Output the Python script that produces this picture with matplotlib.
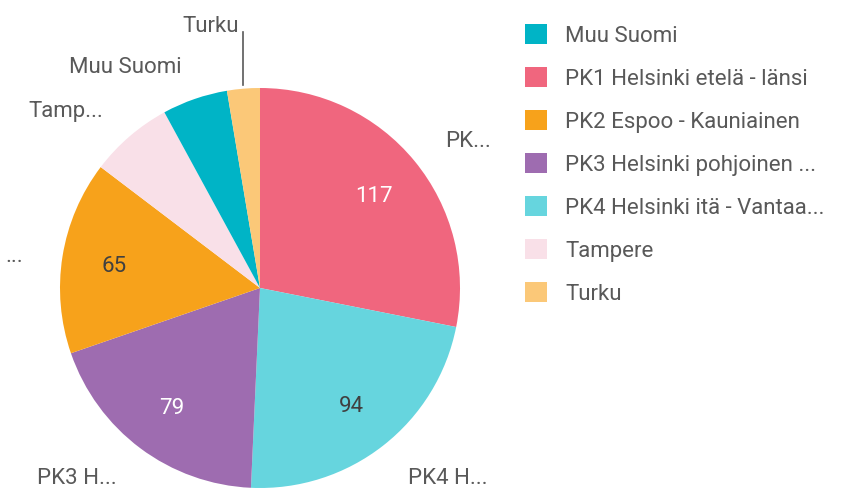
import numpy as np
import matplotlib.pyplot as plt
from matplotlib.patches import Patch

# Data (clockwise from 12 o'clock)
alueet = ["PK1 Helsinki etelä - länsi", "PK4 Helsinki itä - Vantaa...",
          "PK3 Helsinki pohjoinen ...", "PK2 Espoo - Kauniainen",
          "Tampere", "Muu Suomi", "Turku"]
arvot = [117, 94, 79, 65, 28, 22, 11]
ulkolabelit = ["PK...", "PK4 H...", "PK3 H...", "...", "Tamp...", "Muu Suomi", "Turku"]
varit = ["#f0667e", "#66d5de", "#9e6cb0", "#f7a21b", "#f9e0e8", "#00b4c6", "#fbc878"]

# legend order (alphabetical like in the source)
legend_jarjestys = ["Muu Suomi", "PK1 Helsinki etelä - länsi", "PK2 Espoo - Kauniainen",
                    "PK3 Helsinki pohjoinen ...", "PK4 Helsinki itä - Vantaa...",
                    "Tampere", "Turku"]

plt.rcParams['font.family'] = ['Roboto', 'DejaVu Sans']
TEKSTI = "#595959"
KOKO = 16

fig = plt.figure(figsize=(8.46, 4.93), dpi=100)
ax = fig.add_axes([60 / 846, 5 / 493, 400 / 846, 400 / 493])

wedges, _ = ax.pie(arvot, colors=varit, startangle=90, counterclock=False,
                   radius=1.0, wedgeprops=dict(linewidth=0))

ax.set_xlim(-1, 1)
ax.set_ylim(-1, 1)
ax.set_aspect("equal")
ax.axis("off")

summa = sum(arvot)
kulma = 0.0
for i, v in enumerate(arvot):
    osuus = v / summa * 360
    keski = np.deg2rad(kulma + osuus / 2)
    kulma += osuus
    sx, sy = np.sin(keski), np.cos(keski)
    ha = "left" if sx > 0.05 else "right"

    # value inside the big slices
    if osuus > 40:
        vari = "white" if i in (0, 2) else "#404040"
        ax.text(0.74 * sx, 0.74 * sy - 0.01, str(v), ha="center", va="center",
                fontsize=KOKO, color=vari)

    # outside label
    if osuus < 15:
        ax.plot([sx * 1.02, sx * 1.02], [sy * 1.02, 1.28], color=TEKSTI, lw=1.2,
                clip_on=False)
        ax.text(sx * 1.02 - 0.02, 1.31, ulkolabelit[i], ha="right", va="center",
                fontsize=KOKO, color=TEKSTI)
    else:
        ly = max(1.2 * sy - 0.03, -0.95)
        ax.text(1.2 * sx, ly, ulkolabelit[i], ha=ha, va="center",
                fontsize=KOKO, color=TEKSTI)

kahvat = [Patch(facecolor=varit[alueet.index(n)], edgecolor="none") for n in legend_jarjestys]
fig.legend(kahvat, legend_jarjestys, loc="upper left",
           bbox_to_anchor=(525 / 846, 1 - 24 / 493), frameon=False,
           fontsize=KOKO, labelcolor=TEKSTI, handlelength=1.0, handleheight=1.0,
           handletextpad=0.8, labelspacing=0.92, borderpad=0, borderaxespad=0)

fig.savefig("out.png", dpi=100)
